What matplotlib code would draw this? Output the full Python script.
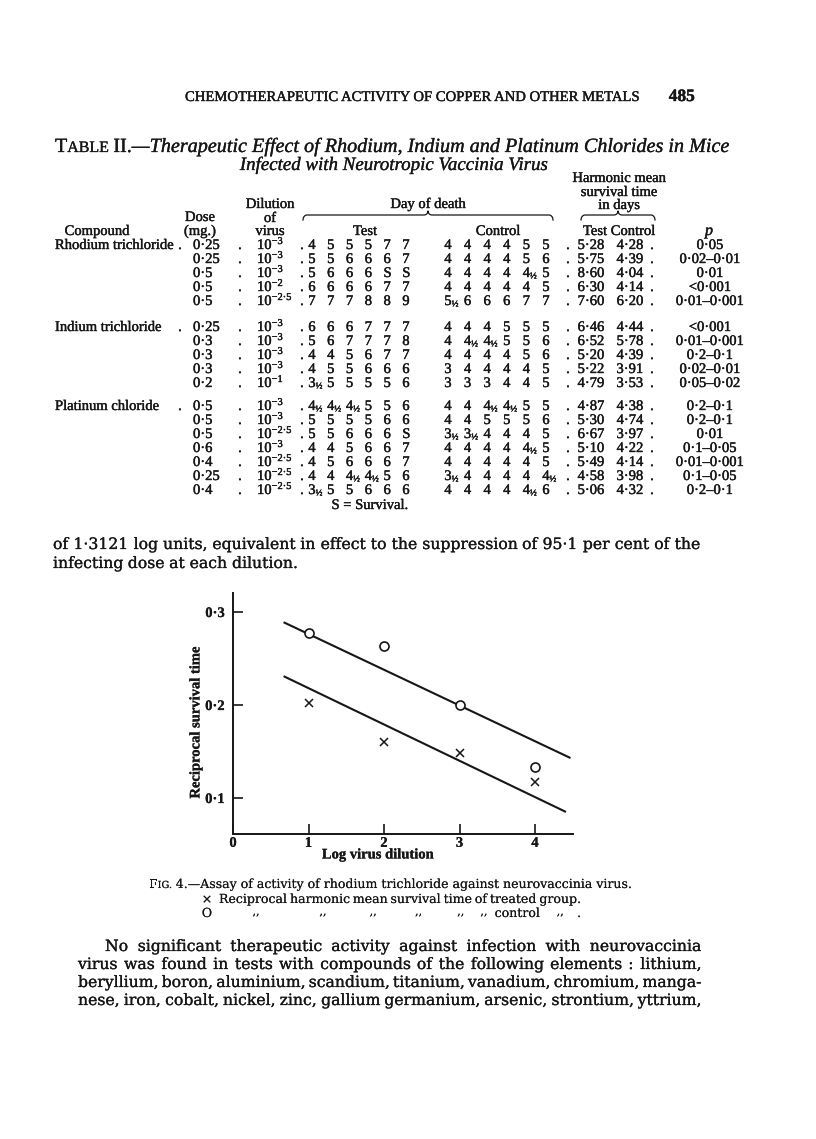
import numpy as np
import matplotlib
matplotlib.use('Agg')
import matplotlib.pyplot as plt
import matplotlib.patheffects as pe

plt.rcParams['font.family'] = ['Liberation Serif', 'DejaVu Serif']

# Fig. 4 data
log_dilution = [1, 2, 3, 4]
recip_treated = [0.202, 0.160, 0.148, 0.117]
recip_control = [0.277, 0.263, 0.200, 0.133]
fit_ctrl_x = [0.67, 4.47]
fit_ctrl_y = [0.289, 0.143]
fit_trt_x = [0.67, 4.41]
fit_trt_y = [0.231, 0.085]
xtick_vals = [0, 1, 2, 3, 4]
ytick_vals = [0.1, 0.2, 0.3]
ytick_labels = ['0·1', '0·2', '0·3']

# Table II data
compounds = ['Rhodium trichloride', 'Indium trichloride', 'Platinum chloride']
group_sizes = [5, 5, 7]
doses = ['0·25', '0·25', '0·5', '0·5', '0·5',
         '0·25', '0·3', '0·3', '0·3', '0·2',
         '0·5', '0·5', '0·5', '0·6', '0·4', '0·25', '0·4']
dilution_exp = ['−3', '−3', '−3', '−2', '−2·5',
                '−3', '−3', '−3', '−3', '−1',
                '−3', '−3', '−2·5', '−3', '−2·5', '−2·5', '−2·5']
test_days = ['4 5 5 5 7 7', '5 5 6 6 6 7', '5 6 6 6 S S', '6 6 6 6 7 7', '7 7 7 8 8 9',
             '6 6 6 7 7 7', '5 6 7 7 7 8', '4 4 5 6 7 7', '4 5 5 6 6 6', '3½ 5 5 5 5 6',
             '4½ 4½ 4½ 5 5 6', '5 5 5 5 6 6', '5 5 6 6 6 S', '4 4 5 6 6 7', '4 5 6 6 6 7',
             '4 4 4½ 4½ 5 6', '3½ 5 5 6 6 6']
control_days = ['4 4 4 4 5 5', '4 4 4 4 5 6', '4 4 4 4 4½ 5', '4 4 4 4 4 5', '5½ 6 6 6 7 7',
                '4 4 4 5 5 5', '4 4½ 4½ 5 5 6', '4 4 4 4 5 6', '3 4 4 4 4 5', '3 3 3 4 4 5',
                '4 4 4½ 4½ 5 5', '4 4 5 5 5 6', '3½ 3½ 4 4 4 5', '4 4 4 4 4½ 5', '4 4 4 4 4 5',
                '3½ 4 4 4 4 4½', '4 4 4 4 4½ 6']
hm_test = ['5·28', '5·75', '8·60', '6·30', '7·60', '6·46', '6·52', '5·20', '5·22', '4·79',
           '4·87', '5·30', '6·67', '5·10', '5·49', '4·58', '5·06']
hm_control = ['4·28', '4·39', '4·04', '4·14', '6·20', '4·44', '5·78', '4·39', '3·91', '3·53',
              '4·38', '4·74', '3·97', '4·22', '4·14', '3·98', '4·32']
p_values = ['0·05', '0·02–0·01', '0·01', '<0·001', '0·01–0·001',
            '<0·001', '0·01–0·001', '0·2–0·1', '0·02–0·01', '0·05–0·02',
            '0·2–0·1', '0·2–0·1', '0·01', '0·1–0·05', '0·01–0·001', '0·1–0·05', '0·2–0·1']

INK = '#161616'
BODY_FONT = ['DejaVu Serif']


def ink(px):
    # thicken glyphs a little, like the scanned print
    return [pe.withStroke(linewidth=px * 0.72, foreground=INK)]


fig = plt.figure(figsize=(8.16, 11.39), dpi=100)
page = fig.add_axes([0, 0, 1, 1])
page.set_xlim(0, 816)
page.set_ylim(1139, 0)
page.axis('off')
R = fig.canvas.get_renderer()


def tw(t):
    return t.get_window_extent(R).width


def txt(x, y, s, size=10, ha='left', weight_px=0.4, **kw):
    return page.text(x, y, s, fontsize=size, ha=ha, va='baseline', color=INK,
                     path_effects=ink(weight_px), **kw)


def runs(x, y, parts, ha='left', width=None, weight_px=0.4):
    # parts: (text, size, kwargs) tuples or a number = gap in px
    items = []
    for p in parts:
        if isinstance(p, (int, float)):
            items.append({'t': None, 'gap': p, 'dy': 0, 'size': 0})
        else:
            s, size, kw = p
            kw = dict(kw)
            dy = kw.pop('dy', 0)
            t = txt(0, y + dy, s, size, weight_px=weight_px, **kw)
            items.append({'t': t, 'gap': 0, 'dy': dy, 'size': size})

    def total():
        return sum(tw(i['t']) if i['t'] is not None else i['gap'] for i in items)

    k = 1.0
    if width is not None:
        k = width / total()
        for i in items:
            i['gap'] *= k
            if i['t'] is not None:
                i['t'].set_fontsize(i['size'] * k)
                i['t'].set_y(y + i['dy'] * k)
    w = total()
    if ha == 'center':
        x -= w / 2
    elif ha == 'right':
        x -= w
    for i in items:
        if i['t'] is None:
            x += i['gap']
        else:
            i['t'].set_x(x)
            x += tw(i['t'])
    return k


def space_width(size, **kw):
    a = txt(0, 0, 'x x', size, **kw)
    b = txt(0, 0, 'xx', size, **kw)
    w = tw(a) - tw(b)
    a.remove()
    b.remove()
    return w


def natural_size(line, width, size0=10, **kw):
    # font size at which the line with ordinary word spaces fills the width
    words = line.split()
    objs = [txt(0, 0, w, size0, **kw) for w in words]
    W = sum(tw(o) for o in objs)
    for o in objs:
        o.remove()
    return size0 * width / (W + space_width(size0, **kw) * (len(words) - 1))


def justify(x0, x1, y, line, size, gap=None, **kw):
    words = line.split()
    objs = [txt(0, y, w, size, **kw) for w in words]
    ws = [tw(o) for o in objs]
    if gap is None:
        gap = (x1 - x0 - sum(ws)) / max(len(words) - 1, 1)
    x = x0
    centers = []
    for o, w in zip(objs, ws):
        o.set_x(x)
        centers.append(x + w / 2)
        x += w + gap
    return centers


def day_entry(x, y, d, size):
    # whole day, with a small half sign hung after it
    if d.endswith('½'):
        runs(x, y, [(d[:-1], size, {}), ('½', size * 0.62, {'dy': 1.5})])
    else:
        txt(x, y, d, size)


def brace(x0, x1, y, h=5):
    xm = (x0 + x1) / 2
    t = np.linspace(0, np.pi / 2, 8)
    r = 4
    left_end = np.c_[x0 + r - r * np.cos(t), y + h - h * np.sin(t)]
    mid_l = np.c_[xm - r + r * np.sin(t), y - (h - 1) * (1 - np.cos(t))]
    mid_r = np.c_[xm + r - r * np.sin(t[::-1]), y - (h - 1) * (1 - np.cos(t[::-1]))]
    right_end = np.c_[x1 - r + r * np.cos(t[::-1]), y + h - h * np.sin(t[::-1])]
    pts = np.vstack([left_end, mid_l, mid_r, right_end])
    page.plot(pts[:, 0], pts[:, 1], color=INK, lw=0.9)


# running head
runs(185, 101, [('CHEMOTHERAPEUTIC ACTIVITY OF COPPER AND OTHER METALS', 10, {})], width=455)
txt(695, 101, '485', 12.5, ha='right', fontweight='bold')

# table title
runs(55, 152, [('T', 12, {}), ('ABLE', 9.5, {}), 4, ('II.', 12, {}),
               ('—Therapeutic Effect of Rhodium, Indium and Platinum Chlorides in Mice', 12,
                {'style': 'italic'})], width=675, weight_px=0.3)
runs(394, 170, [('Infected with Neurotropic Vaccinia Virus', 12, {'style': 'italic'})],
     ha='center', width=308, weight_px=0.3)

# column headings
HS = 10.5
for s, yy in [('Harmonic mean', 182), ('survival time', 196), ('in days', 209)]:
    txt(619, yy, s, HS, ha='center')
txt(270, 208, 'Dilution', HS, ha='center')
txt(270, 222, 'of', HS, ha='center')
txt(270, 235, 'virus', HS, ha='center')
txt(200, 221, 'Dose', HS, ha='center')
txt(200, 235, '(mg.)', HS, ha='center')
txt(97, 235, 'Compound', HS, ha='center')
txt(428, 208, 'Day of death', HS, ha='center')
brace(303, 553, 215)
brace(581, 655, 215)
txt(365, 235, 'Test', HS, ha='center')
txt(498, 235, 'Control', HS, ha='center')
txt(619, 235, 'Test Control', HS, ha='center')
txt(709, 235, 'p', HS + 1, ha='center', style='italic')

# table body
row_y = []
y = 249
for g, n in enumerate(group_sizes):
    for i in range(n):
        row_y.append(y + 14 * i)
    y = row_y[-1] + 26 if g == 0 else row_y[-1] + 23

test_cols = [312 + 18.8 * i for i in range(6)]
ctrl_cols = [448 + 19.6 * i for i in range(6)]
TS = 10.5
k = 0
for g, n in enumerate(group_sizes):
    txt(55, row_y[k], compounds[g], TS)
    txt(180, row_y[k], '.', TS, ha='center')
    for i in range(n):
        yy = row_y[k]
        txt(193, yy, doses[k], TS)
        txt(240, yy, '.', TS, ha='center')
        runs(257, yy, [('10', TS, {}), (dilution_exp[k], 7.5, {'dy': -5})])
        txt(302, yy, '.', TS, ha='center')
        for xc, d in zip(test_cols, test_days[k].split()):
            day_entry(xc - 3.7, yy, d, TS)
        for xc, d in zip(ctrl_cols, control_days[k].split()):
            day_entry(xc - 3.7, yy, d, TS)
        txt(568, yy, '.', TS, ha='center')
        txt(591, yy, hm_test[k], TS, ha='center')
        txt(630, yy, hm_control[k], TS, ha='center')
        txt(652, yy, '.', TS, ha='center')
        txt(710, yy, p_values[k], TS, ha='center')
        k += 1
txt(370, 509, 'S = Survival.', TS, ha='center')

# text between table and figure
lead = 'of 1·3121 log units, equivalent in effect to the suppression of 95·1 per cent of the'
BS = natural_size(lead, 647, family=BODY_FONT)
justify(53, 700, 549, lead, BS, family=BODY_FONT, weight_px=0.25)
justify(53, 700, 568, 'infecting dose at each dilution.', BS,
        gap=space_width(BS, family=BODY_FONT), family=BODY_FONT, weight_px=0.25)

# Fig. 4
x_left, x_right = 233, 572.75
y_bot, y_top = 834, 593.4
ax = fig.add_axes([x_left / 816, 1 - y_bot / 1139, (x_right - x_left) / 816, (y_bot - y_top) / 1139])
ax.patch.set_alpha(0)
ax.set_xlim(0, 4.5)
ax.set_ylim(0.0613, 0.32)
for s in ['top', 'right']:
    ax.spines[s].set_visible(False)
for s in ['left', 'bottom']:
    ax.spines[s].set_linewidth(1.4)
    ax.spines[s].set_color(INK)
ax.plot(fit_ctrl_x, fit_ctrl_y, color=INK, lw=1.5, solid_capstyle='butt')
ax.plot(fit_trt_x, fit_trt_y, color=INK, lw=1.5, solid_capstyle='butt')
ax.plot(log_dilution, recip_control, 'o', mfc='white', mec=INK, ms=6.5, mew=1.2, zorder=3)
ax.plot(log_dilution, recip_treated, 'x', color=INK, ms=6, mew=1.1, zorder=3)
ax.set_xticks(xtick_vals)
ax.set_xticklabels([str(v) for v in xtick_vals])
ax.set_yticks(ytick_vals)
ax.set_yticklabels(ytick_labels)
ax.tick_params(direction='in', length=7, width=1.2, labelsize=10.5, colors=INK)
ax.tick_params(axis='x', pad=2)
ax.tick_params(axis='y', pad=6)
ax.set_xlabel('Log virus dilution', fontsize=10.5, fontweight='bold', color=INK)
ax.xaxis.set_label_coords(0.427, -0.06)
ax.set_ylabel('Reciprocal survival time', fontsize=10.5, fontweight='bold', color=INK)
ax.yaxis.set_label_coords(-0.09, 0.465)
for lab in ax.get_xticklabels() + ax.get_yticklabels() + [ax.xaxis.label, ax.yaxis.label]:
    lab.set_fontweight('bold')
    lab.set_path_effects(ink(0.2))

# caption
cap1 = '4.—Assay of activity of rhodium trichloride against neurovaccinia virus.'
ck = runs(149, 888, [('F', 10, {'family': BODY_FONT}), ('IG.', 7.8, {'family': BODY_FONT}), 4,
                     (cap1, 10, {'family': BODY_FONT})], width=485, weight_px=0.05)
CS = 10 * ck
txt(207, 903, '×', CS, ha='center', family=BODY_FONT, weight_px=0.05)
centers = justify(219, 581, 903, 'Reciprocal harmonic mean survival time of treated group.', CS,
                  family=BODY_FONT, weight_px=0.05)
txt(207, 917, 'O', CS, ha='center', family=BODY_FONT, weight_px=0.05)
for c in centers[:6]:
    txt(c + 3, 915, ',,', CS - 1, ha='center', family=BODY_FONT, weight_px=0.05)
txt(centers[6] + 4, 917, 'control', CS, ha='center', family=BODY_FONT, weight_px=0.05)
txt(centers[7], 915, ',,', CS - 1, ha='center', family=BODY_FONT, weight_px=0.05)
txt(579, 917, '.', CS, ha='center', family=BODY_FONT, weight_px=0.05)

# following paragraph
body = ['No significant therapeutic activity against infection with neurovaccinia',
        'virus was found in tests with compounds of the following elements : lithium,',
        'beryllium, boron, aluminium, scandium, titanium, vanadium, chromium, manga-',
        'nese, iron, cobalt, nickel, zinc, gallium germanium, arsenic, strontium, yttrium,']
for j, line in enumerate(body):
    justify(105 if j == 0 else 78, 701, 951 + 18 * j, line, BS, family=BODY_FONT, weight_px=0.25)

fig.savefig('out.png', dpi=100, facecolor='white')
